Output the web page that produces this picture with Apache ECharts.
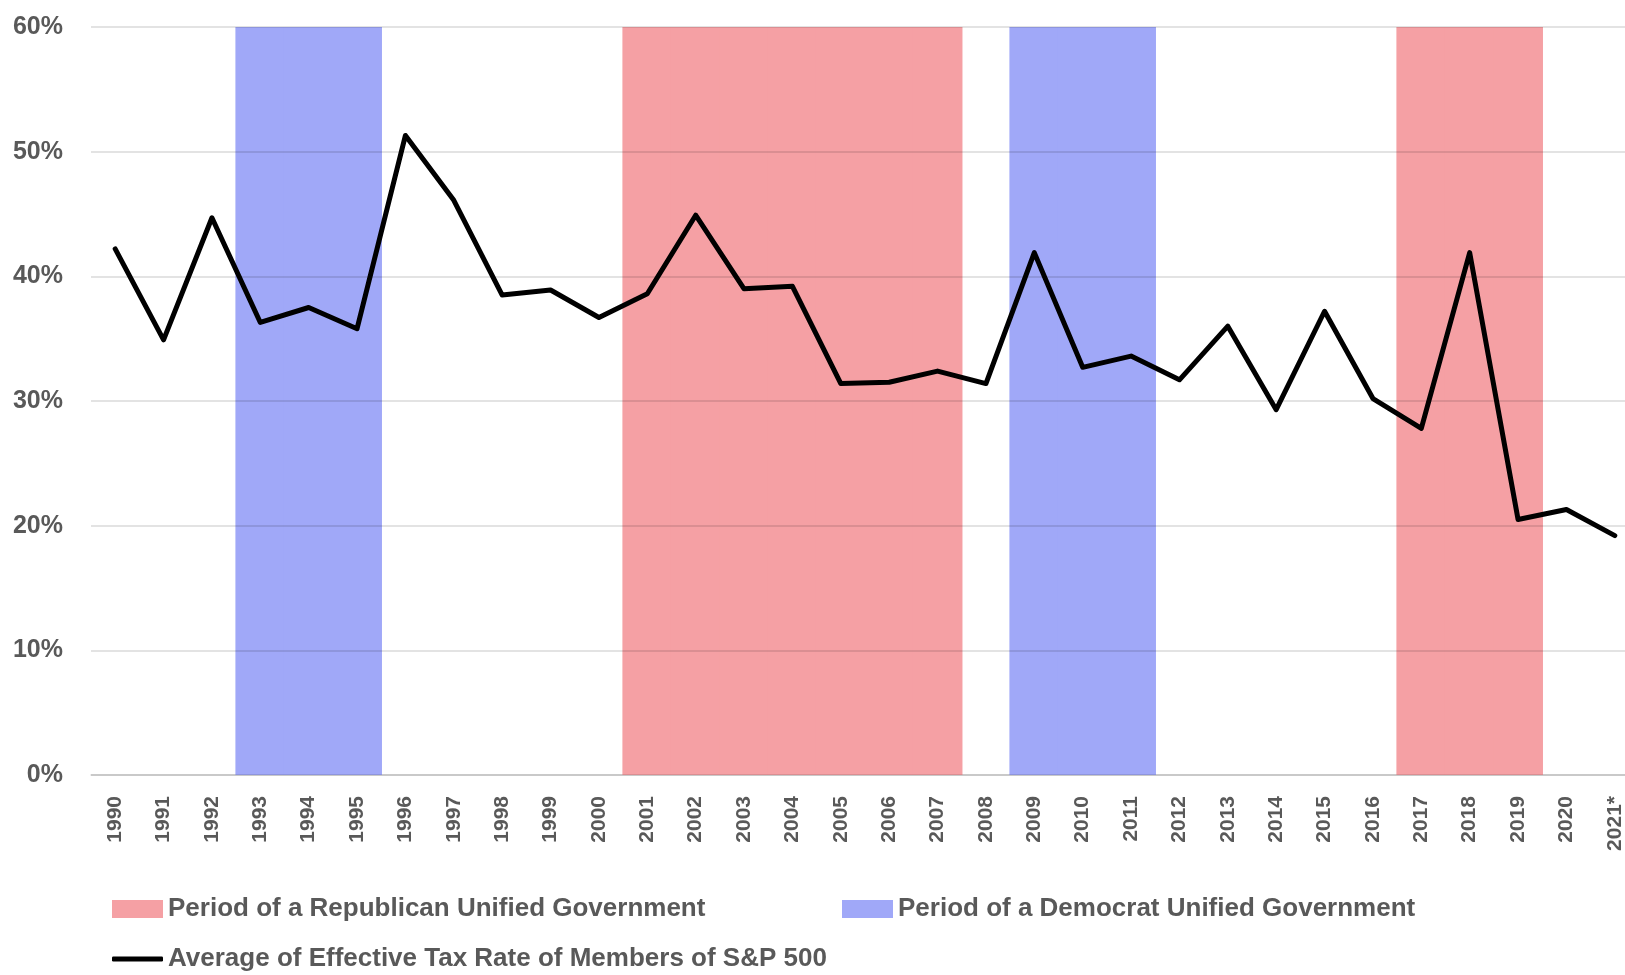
<!DOCTYPE html>
<html>
<head>
<meta charset="utf-8">
<script src="https://cdn.jsdelivr.net/npm/echarts@6/dist/echarts.min.js"></script>
<style>
  html, body { margin: 0; padding: 0; background: #fff; }
  #main { width: 1625px; height: 975px; }
</style>
</head>
<body>
<div id="main"></div>
<script>
const years = ['1990','1991','1992','1993','1994','1995','1996','1997','1998','1999','2000',
  '2001','2002','2003','2004','2005','2006','2007','2008','2009','2010','2011','2012','2013',
  '2014','2015','2016','2017','2018','2019','2020','2021*']
const taxRate = [42.2, 34.9, 44.7, 36.3, 37.5, 35.8, 51.3, 46.1, 38.5, 38.9, 36.7,
  38.6, 44.9, 39.0, 39.2, 31.4, 31.5, 32.4, 31.4, 41.9, 32.7, 33.6, 31.7, 36.0,
  29.3, 37.2, 30.2, 27.8, 41.9, 20.5, 21.3, 19.2]
const republicanYears = ['2001','2002','2003','2004','2005','2006','2007','2017','2018','2019']
const democratYears = ['1993','1994','1995','2009','2010','2011']
const bandTop = 60
const yTicks = [0, 10, 20, 30, 40, 50, 60]

const textColor = '#595959'
const font = 'Liberation Sans'
const repName = 'Period of a Republican Unified Government'
const demName = 'Period of a Democrat Unified Government'
const lineName = 'Average of Effective Tax Rate of Members of S&P 500'

function band(list) {
  return years.map(y => (list.includes(y) ? bandTop : '-'))
}

const legendText = { color: textColor, fontSize: 26, fontFamily: font, fontWeight: 'bold' }

const chart = echarts.init(document.getElementById('main'))
const option = {
  animation: false,
  grid: { left: 91, width: 1548, top: 27, bottom: 200, containLabel: false, outerBoundsMode: 'none' },
  legend: [
    { left: 107, top: 891, itemWidth: 51, itemHeight: 18, textStyle: legendText,
      data: [{ name: repName, icon: 'rect' }] },
    { left: 837, top: 891, itemWidth: 51, itemHeight: 18, textStyle: legendText,
      data: [{ name: demName, icon: 'rect' }] },
    { left: 107, top: 941, itemWidth: 51, itemHeight: 5, textStyle: legendText,
      data: [{ name: lineName, icon: 'roundRect' }] }
  ],
  xAxis: {
    type: 'category',
    data: years,
    axisTick: { show: false },
    axisLine: { lineStyle: { color: '#d9d9d9', width: 1.5 } },
    axisLabel: {
      rotate: 90, margin: 21, interval: 0,
      color: textColor, fontSize: 21, fontWeight: 'bold', fontFamily: font
    }
  },
  yAxis: {
    type: 'value',
    z: 3,
    min: yTicks[0], max: yTicks[yTicks.length - 1], interval: 10,
    axisLabel: {
      formatter: '{value}%', margin: 28,
      color: textColor, fontSize: 25, fontWeight: 'bold', fontFamily: font
    },
    splitLine: { lineStyle: { color: 'rgba(0,0,0,0.15)', width: 1.5 } }
  },
  series: [
    {
      name: repName,
      type: 'bar',
      barWidth: '103%',
      barGap: '-100%',
      itemStyle: { color: '#f5a0a4' },
      data: band(republicanYears)
    },
    {
      name: demName,
      type: 'bar',
      barWidth: '103%',
      barGap: '-100%',
      itemStyle: { color: '#a0a8f8' },
      data: band(democratYears)
    },
    {
      name: lineName,
      type: 'line',
      z: 5,
      symbol: 'none',
      showSymbol: false,
      lineStyle: { color: '#000', width: 5, cap: 'round', join: 'round' },
      itemStyle: { color: '#000' },
      data: taxRate
    }
  ]
}
option && chart.setOption(option)
</script>
</body>
</html>
